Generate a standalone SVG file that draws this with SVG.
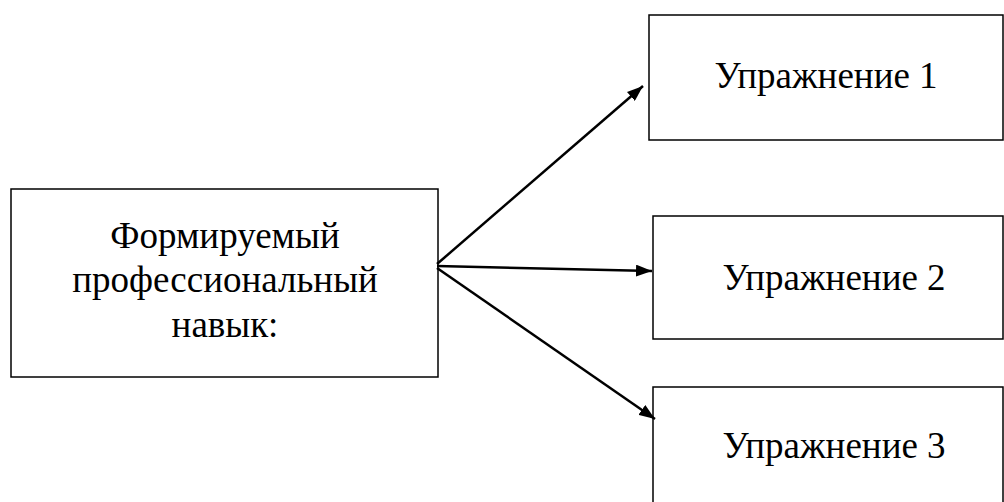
<svg xmlns="http://www.w3.org/2000/svg" width="1004" height="502" viewBox="0 0 1004 502">
<style>
.box{fill:#fff;stroke:#000;stroke-width:1.5}
.t{font-family:"Liberation Serif","Times New Roman",serif;font-size:37px;fill:#000;text-anchor:middle}
.c{stroke:#000;stroke-width:2.5;fill:none;marker-end:url(#ah)}
</style>
<defs>
<marker id="ah" viewBox="0 0 16 12" refX="16" refY="6" markerUnits="userSpaceOnUse" markerWidth="16" markerHeight="12" orient="auto">
<path d="M0,0 L16,6 L0,12 z" fill="#000"/>
</marker>
</defs>
<rect width="1004" height="502" fill="#fff"/>
<g id="n0"><rect class="box" x="11" y="189" width="427" height="188"/>
<text class="t" x="225" y="248">Формируемый</text>
<text class="t" x="225" y="292">профессиональный</text>
<text class="t" x="225" y="337">навык:</text></g>
<g id="n1"><rect class="box" x="649" y="15" width="354" height="125"/>
<text class="t" x="826" y="88">Упражнение 1</text></g>
<g id="n2"><rect class="box" x="653" y="216" width="350" height="123"/>
<text class="t" x="834" y="290">Упражнение 2</text></g>
<g id="n3"><rect class="box" x="653" y="387" width="350" height="120"/>
<text class="t" x="834" y="458">Упражнение 3</text></g>
<g id="connectors">
<line class="c" x1="437" y1="264" x2="643" y2="86"/>
<line class="c" x1="437" y1="266" x2="652" y2="271"/>
<line class="c" x1="437" y1="268" x2="655" y2="419"/>
</g>
</svg>
